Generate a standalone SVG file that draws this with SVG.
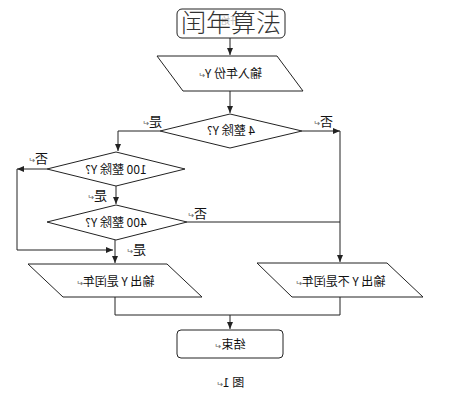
<svg xmlns="http://www.w3.org/2000/svg" width="462" height="400" viewBox="0 0 462 400">
<style>
.sh{fill:#fff;stroke:#222;stroke-width:1}
.ln{fill:none;stroke:#222;stroke-width:1}
.t{font-family:"Noto Sans CJK SC","Liberation Sans",sans-serif;font-size:12px;fill:#111;text-anchor:middle}
.lb{font-family:"Noto Sans CJK SC","Liberation Sans",sans-serif;font-size:13px;fill:#111;text-anchor:middle}
.pm{font-size:8px;fill:#666}
</style>
<defs>
<marker id="ar" markerWidth="8" markerHeight="8" refX="7" refY="4" orient="auto" markerUnits="userSpaceOnUse">
<path d="M0,1 L7,4 L0,7 Z" fill="#222"/>
</marker>
</defs>
<rect width="462" height="400" fill="#fff"/>
<g id="connectors">
<path class="ln" d="M230,38 V55" marker-end="url(#ar)"/>
<path class="ln" d="M230,91 V113" marker-end="url(#ar)"/>
<path class="ln" d="M160,131 H118 V151" marker-end="url(#ar)"/>
<path class="ln" d="M302,131 H340" marker-end="url(#ar)"/>
<path class="ln" d="M340,131 V262" marker-end="url(#ar)"/>
<path class="ln" d="M47,169 H17" marker-end="url(#ar)"/>
<path class="ln" d="M17,169 V250 H113" marker-end="url(#ar)"/>
<path class="ln" d="M116,186 V204" marker-end="url(#ar)"/>
<path class="ln" d="M187,222 H340"/>
<path class="ln" d="M115,240 V263" marker-end="url(#ar)"/>
<path class="ln" d="M115,297 V315 H340 V297"/>
<path class="ln" d="M230,315 V329" marker-end="url(#ar)"/>
</g>
<g id="title">
<rect class="sh" x="177" y="9" width="108" height="29" rx="5"/>
<text x="-230" y="24" transform="scale(-1,1)" style="font-family:'Noto Sans CJK SC',sans-serif;font-size:9px;fill:#bbb;text-anchor:middle">开始</text>
<text x="231" y="32" style="font-family:'Noto Sans CJK SC',sans-serif;font-size:25px;font-weight:300;fill:#333;text-anchor:middle">闰年算法</text>
</g>
<g id="input">
<polygon class="sh" points="157,56 277,56 303,91 183,91"/>
<text class="t" x="-230" y="78" transform="scale(-1,1)">输入年份 Y<tspan class="pm">↵</tspan></text>
</g>
<g id="d4">
<polygon class="sh" points="230,114 302,131 230,148 160,131"/>
<text class="t" x="-231" y="135" transform="scale(-1,1)">4 整除 Y?</text>
</g>
<g id="d100">
<polygon class="sh" points="116,152 185,169 116,186 47,169"/>
<text class="t" x="-116" y="174" transform="scale(-1,1)">100 整除 Y?</text>
</g>
<g id="d400">
<polygon class="sh" points="116,205 187,222 116,240 47,222"/>
<text class="t" x="-116" y="227" transform="scale(-1,1)">400 整除 Y?</text>
</g>
<g id="leap">
<polygon class="sh" points="28,264 167,264 202,297 63,297"/>
<text class="t" x="-115" y="286" transform="scale(-1,1)">输出 Y 是闰年<tspan class="pm">↵</tspan></text>
</g>
<g id="notleap">
<polygon class="sh" points="257,263 387,263 423,297 292,297"/>
<text class="t" x="-340" y="286" transform="scale(-1,1)">输出 Y 不是闰年<tspan class="pm">↵</tspan></text>
</g>
<g id="end">
<rect class="sh" x="177" y="330" width="106" height="28" rx="4"/>
<text class="t" x="-230" y="349" transform="scale(-1,1)">结束<tspan class="pm">↵</tspan></text>
</g>
<g id="labels">
<text class="lb" x="-152" y="126" transform="scale(-1,1)">是<tspan class="pm">↵</tspan></text>
<text class="lb" x="-323" y="126" transform="scale(-1,1)">否<tspan class="pm">↵</tspan></text>
<text class="lb" x="-38" y="163" transform="scale(-1,1)">否<tspan class="pm">↵</tspan></text>
<text class="lb" x="-97" y="200" transform="scale(-1,1)">是<tspan class="pm">↵</tspan></text>
<text class="lb" x="-197" y="218" transform="scale(-1,1)">否<tspan class="pm">↵</tspan></text>
<text class="lb" x="-136" y="254" transform="scale(-1,1)">是<tspan class="pm">↵</tspan></text>
</g>
<g id="caption">
<text class="t" x="-230" y="387" transform="scale(-1,1)">图 1<tspan class="pm">↵</tspan></text>
</g>
</svg>
